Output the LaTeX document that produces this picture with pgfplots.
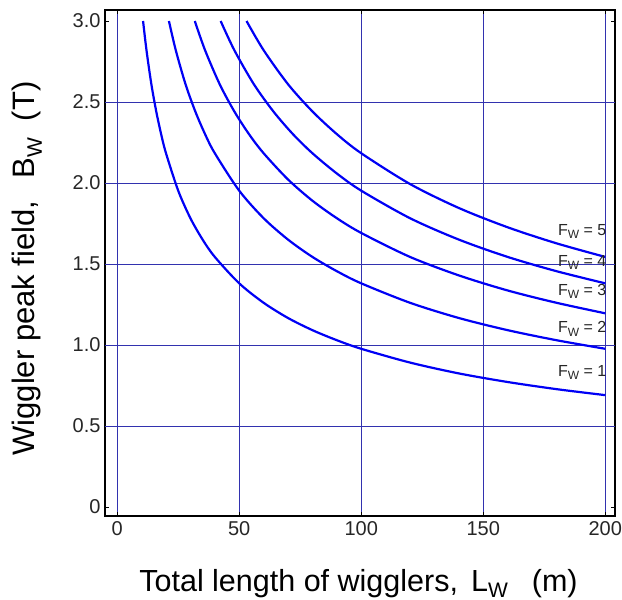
\documentclass[border=0pt]{standalone}
\usepackage{pgfplots}
\pgfplotsset{compat=1.18}
\usepackage{fontspec}
\setmainfont{Liberation Sans}
\definecolor{curve}{RGB}{0,0,245}
\definecolor{gridc}{RGB}{50,50,175}
\newcommand{\fw}[1]{F\raisebox{-3.5pt}{\fontsize{12}{12}\selectfont W}\ = #1}
\begin{document}
\begin{tikzpicture}
\useasboundingbox (-105pt,-84pt) rectangle (517pt,516pt);
\begin{axis}[
  at={(0pt,0pt)}, anchor=south west,
  scale only axis, width=510pt, height=506pt,
  xmin=-5, xmax=204, ymin=-0.055, ymax=3.068,
  xtick={0,50,100,150,200}, xticklabels={0,50,100,150,200},
  ytick={0,0.5,1,1.5,2,2.5,3}, yticklabels={0,0.5,1.0,1.5,2.0,2.5,3.0},
  xmajorgrids=true,
  extra y ticks={0.5,1,1.5,2,2.5}, extra y tick labels={},
  extra y tick style={ymajorgrids=true, major tick length=0pt},
  major grid style={gridc, line width=0.6pt},
  tick align=inside, major tick length=4pt,
  tick style={black, line width=0.5pt},
  axis line style={black, line width=2.8pt},
  ticklabel style={font=\fontsize{20}{20}\selectfont, text=black!85},
  xticklabel style={yshift=-2pt},
  yticklabel style={xshift=-1pt},
  xlabel={Total length of wigglers,\hspace{13pt}L\raisebox{-6pt}{\fontsize{21}{21}\selectfont W}\hspace{24pt}(m)},
  xlabel style={font=\fontsize{30.5}{30.5}\selectfont, at={(axis description cs:0.497,0)}, anchor=base, yshift=-75pt},
  ylabel={Wiggler peak field,\hspace{22pt}B\raisebox{-7pt}{\fontsize{21}{21}\selectfont W}\hspace{17pt}(T)},
  ylabel style={font=\fontsize{31}{31}\selectfont, at={(axis description cs:-0.1373,0.489)}, anchor=base},
  clip=false,
]
\addplot[curve, line width=2.2pt, smooth] coordinates {
(10.6,3.0) (12,2.820) (14,2.610) (16,2.442) (18,2.302) (20,2.184) (25,1.953) (30,1.783) (35,1.651) (40,1.544) (50,1.381) (60,1.261) (70,1.167) (80,1.092) (90,1.030) (100,0.977) (120,0.892) (140,0.825) (160,0.772) (180,0.728) (200,0.691)};
\addplot[curve, line width=2.2pt, smooth] coordinates {
(21.2,3.0) (24,2.820) (28,2.610) (32,2.442) (36,2.302) (40,2.184) (50,1.953) (60,1.783) (70,1.651) (80,1.544) (90,1.456) (100,1.381) (120,1.261) (140,1.167) (160,1.092) (180,1.030) (200,0.977)};
\addplot[curve, line width=2.2pt, smooth] coordinates {
(31.8,3.0) (36,2.820) (42,2.610) (48,2.442) (54,2.302) (60,2.184) (70,2.022) (80,1.891) (90,1.783) (100,1.692) (120,1.544) (140,1.430) (160,1.337) (180,1.261) (200,1.196)};
\addplot[curve, line width=2.2pt, smooth] coordinates {
(42.4,3.0) (48,2.820) (56,2.610) (64,2.442) (72,2.302) (80,2.184) (90,2.059) (100,1.953) (120,1.783) (140,1.651) (160,1.544) (180,1.456) (200,1.381)};
\addplot[curve, line width=2.2pt, smooth] coordinates {
(53,3.0) (60,2.820) (70,2.610) (80,2.442) (90,2.302) (100,2.184) (120,1.994) (140,1.846) (160,1.727) (180,1.628) (200,1.544)};
\node[anchor=east, font=\fontsize{16}{16}\selectfont, text=black!85, inner sep=0pt] at (axis cs:200.5,1.70) {\fw{5}};
\node[anchor=east, font=\fontsize{16}{16}\selectfont, text=black!85, inner sep=0pt] at (axis cs:200.5,1.51) {\fw{4}};
\node[anchor=east, font=\fontsize{16}{16}\selectfont, text=black!85, inner sep=0pt] at (axis cs:200.5,1.33) {\fw{3}};
\node[anchor=east, font=\fontsize{16}{16}\selectfont, text=black!85, inner sep=0pt] at (axis cs:200.5,1.10) {\fw{2}};
\node[anchor=east, font=\fontsize{16}{16}\selectfont, text=black!85, inner sep=0pt] at (axis cs:200.5,0.83) {\fw{1}};
\end{axis}
\end{tikzpicture}
\end{document}
